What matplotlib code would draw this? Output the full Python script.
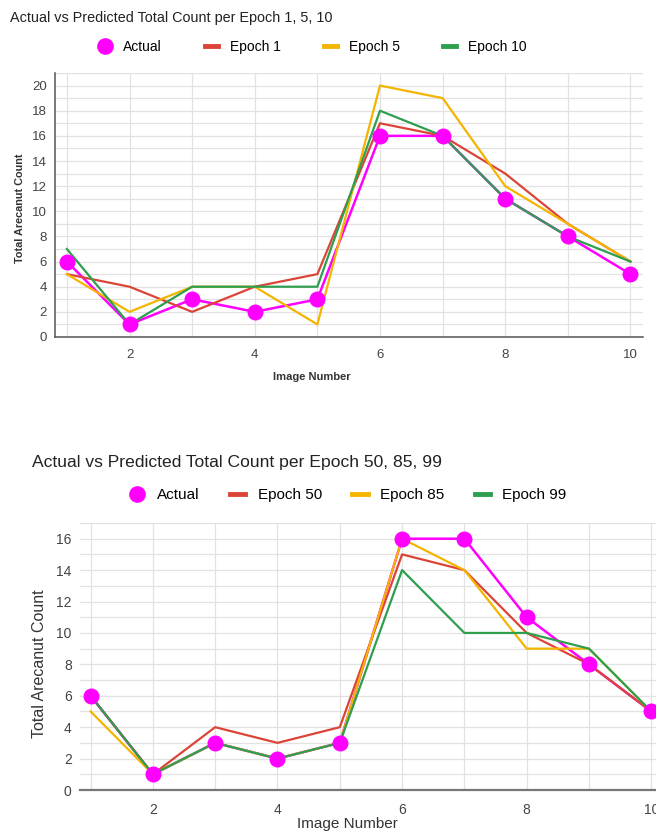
import matplotlib
matplotlib.use("Agg")
import matplotlib.pyplot as plt
from matplotlib.lines import Line2D

plt.rcParams["font.family"] = ["Liberation Sans", "DejaVu Sans"]

images = [1, 2, 3, 4, 5, 6, 7, 8, 9, 10]
actual = [6, 1, 3, 2, 3, 16, 16, 11, 8, 5]

ep1 = [5, 4, 2, 4, 5, 17, 16, 13, 9, 6]
ep5 = [5, 2, 4, 4, 1, 20, 19, 12, 9, 6]
ep10 = [7, 1, 4, 4, 4, 18, 16, 11, 8, 6]

ep50 = [6, 1, 4, 3, 4, 15, 14, 10, 8, 5]
ep85 = [5, 1, 3, 2, 3, 16, 14, 9, 9, 5]
ep99 = [6, 1, 3, 2, 3, 14, 10, 10, 9, 5]

MAG = "#ff00ff"
RED = "#db4437"
YEL = "#f4b400"
GRN = "#2e9e4f"
GRID = "#e2e2e2"

W, H = 656, 833
fig = plt.figure(figsize=(W / 100, H / 100), dpi=100)


def px(x0, y0, x1, y1):
    return [x0 / W, 1 - y1 / H, (x1 - x0) / W, (y1 - y0) / H]


def panel(rect, series, ymax, ylim, xlim, fs, ms):
    ax = fig.add_axes(rect)
    ax.plot(images, actual, color=MAG, lw=1.8, zorder=3)
    for s, c in zip(series, [RED, YEL, GRN]):
        ax.plot(images, s, color=c, lw=1.6, zorder=4)
    ax.plot(images, actual, "o", color=MAG, ms=ms, zorder=5)
    ax.set_xlim(*xlim)
    ax.set_ylim(0, ylim)
    ax.set_xticks(range(2, 11, 2))
    ax.set_xticks(images, minor=True)
    ax.set_yticks(range(0, ymax + 1, 2))
    ax.set_yticks(range(0, int(ylim) + 1), minor=True)
    ax.grid(True, which="both", color=GRID, lw=0.9, zorder=0)
    ax.set_axisbelow(True)
    ax.tick_params(which="both", length=0, labelsize=fs, colors="#444")
    ax.tick_params(axis="y", pad=6)
    ax.tick_params(axis="x", pad=9)
    for sp in ["top", "right"]:
        ax.spines[sp].set_visible(False)
    for sp in ["left", "bottom"]:
        ax.spines[sp].set_color("#555")
        ax.spines[sp].set_linewidth(1.1)
    return ax


ax1 = panel(px(55, 73, 643, 337), [ep1, ep5, ep10], 20, 21,
            (0.81, 10.2), 9.5, 10.5)
fig.text(312 / W, 1 - 377 / H, "Image Number", fontsize=8, fontweight="bold",
         color="#333", ha="center", va="center")
fig.text(20 / W, 1 - 208 / H, "Total Arecanut Count", fontsize=7.8,
         fontweight="bold", color="#333", ha="center", va="center",
         rotation=90)

ax2 = panel(px(80, 523, 670, 790), [ep50, ep85, ep99], 16, 17,
            (0.83, 10.3), 10, 10.5)
ax2.spines["left"].set_visible(False)
ax2.spines["bottom"].set_color("#777")
ax2.spines["bottom"].set_linewidth(1.6)
fig.text(347 / W, 1 - 824 / H, "Image Number", fontsize=11,
         color="#333", ha="center", va="center")
fig.text(40 / W, 1 - 664 / H, "Total Arecanut Count", fontsize=11.5,
         color="#333", ha="center", va="center", rotation=90)

fig.text(10 / W, 1 - 18 / H, "Actual vs Predicted Total Count per Epoch 1, 5, 10",
         fontsize=10.4, color="#222", va="center")
fig.text(32 / W, 1 - 462 / H,
         "Actual vs Predicted Total Count per Epoch 50, 85, 99",
         fontsize=12.6, color="#222", va="center")


def legend(names, cx, cy, fs, cs):
    hs = [Line2D([], [], ls="", marker="o", color=MAG, ms=11)]
    for c in [RED, YEL, GRN]:
        hs.append(Line2D([], [], color=c, lw=3.5))
    fig.legend(hs, ["Actual"] + names, loc="center", ncol=4,
               bbox_to_anchor=(cx / W, 1 - cy / H), frameon=False,
               fontsize=fs, handlelength=1.0, columnspacing=cs,
               handletextpad=0.8)


legend(["Epoch 1", "Epoch 5", "Epoch 10"], 312, 47, 10, 3.1)
legend(["Epoch 50", "Epoch 85", "Epoch 99"], 348, 495, 11, 2.0)

fig.savefig("out.png", dpi=100)
